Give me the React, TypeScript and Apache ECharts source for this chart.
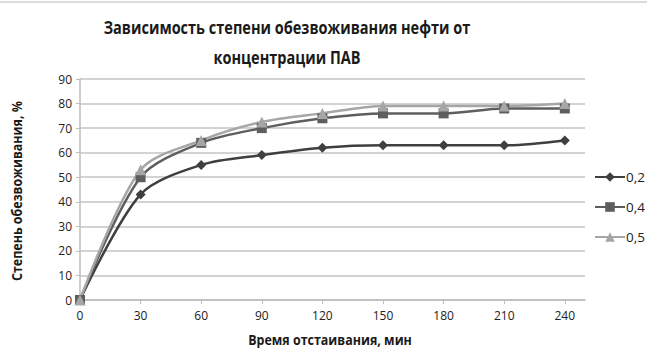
import React, { useEffect, useRef } from "react";
import * as echarts from "echarts";

const times = [0, 30, 60, 90, 120, 150, 180, 210, 240];
const seriesNames = ["0,2", "0,4", "0,5"];
const values02 = [0, 43, 55, 59, 62, 63, 63, 63, 65];
const values04 = [0, 50, 64, 70, 74, 76, 76, 78, 78];
const values05 = [0, 53, 65, 72.5, 76, 79, 79, 79, 80];
const yTicks = [0, 10, 20, 30, 40, 50, 60, 70, 80, 90];

const titleText = "Зависимость степени обезвоживания нефти от\nконцентрации ПАВ";
const xName = "Время отстаивания, мин";
const yName = "Степень обезвоживания, %";

export default function App() {
  const ref = useRef<HTMLDivElement>(null);
  useEffect(() => {
    document.body.style.margin = "0";
    const chart = echarts.init(ref.current!, undefined, { renderer: "svg" });
    const mk = (vals: number[]) => times.map((t, i) => [t, vals[i]]);
    const labelFont = "'Open Sans', 'DejaVu Sans', sans-serif";
    const defs = [
      { name: seriesNames[0], data: mk(values02), color: "#3f3f3f", symbol: "diamond", size: 10 },
      { name: seriesNames[1], data: mk(values04), color: "#5e5e5e", symbol: "rect", size: 10 },
      { name: seriesNames[2], data: mk(values05), color: "#a6a6a6", symbol: "triangle", size: 11 },
    ];
    chart.setOption({
      animation: false,
      backgroundColor: "#ffffff",
      grid: { left: 80, right: 62, top: 79, bottom: 49, containLabel: false },
      xAxis: {
        type: "value",
        min: 0,
        max: 250,
        interval: 30,
        axisLine: { show: true, lineStyle: { color: "#bdbdbd", width: 1.5 } },
        axisTick: { show: true, length: 4, lineStyle: { color: "#bdbdbd" }, customValues: times },
        axisLabel: {
          customValues: times,
          margin: 9,
          color: "#222",
          fontSize: 12,
          fontFamily: labelFont,
        },
        splitLine: { show: false },
      },
      yAxis: {
        type: "value",
        min: 0,
        max: 90,
        interval: 10,
        axisLine: { show: true, lineStyle: { color: "#bdbdbd", width: 1.5 } },
        axisTick: { show: true, length: 4, lineStyle: { color: "#bdbdbd" } },
        axisLabel: {
          customValues: yTicks,
          margin: 8,
          color: "#222",
          fontSize: 12,
          fontFamily: labelFont,
        },
        splitLine: { show: true, lineStyle: { color: "#c4c4c4", width: 1.5 } },
      },
      legend: {
        orient: "vertical",
        left: 589,
        top: 165,
        itemGap: 16,
        itemWidth: 30,
        itemHeight: 12,
        textStyle: { fontSize: 13.5, color: "#222", fontFamily: labelFont, padding: [0, 0, 0, -4] },
        data: seriesNames,
      },
      graphic: [
        {
          type: "line",
          shape: { x1: 0, y1: 2, x2: 647, y2: 2 },
          style: { stroke: "#dcdcdc", lineWidth: 2 },
        },
        {
          type: "text",
          x: 287,
          y: 13,
          scaleX: 0.855,
          style: {
            text: titleText,
            font: "bold 17px 'Open Sans', sans-serif",
            textAlign: "center",
            fill: "#1a1a1a",
            lineHeight: 30,
          },
        },
        {
          type: "text",
          x: 330,
          y: 340,
          scaleX: 0.86,
          style: {
            text: xName,
            font: "bold 14.5px 'Open Sans', sans-serif",
            textAlign: "center",
            textVerticalAlign: "middle",
            fill: "#1a1a1a",
          },
        },
        {
          type: "text",
          x: 17,
          y: 191,
          rotation: Math.PI / 2,
          scaleX: 0.86,
          style: {
            text: yName,
            font: "bold 14.5px 'Open Sans', sans-serif",
            textAlign: "center",
            textVerticalAlign: "middle",
            fill: "#1a1a1a",
          },
        },
      ],
      series: defs.map((d) => ({
        name: d.name,
        type: "line",
        data: d.data,
        smooth: 0.3,
        symbol: d.symbol,
        symbolSize: d.size,
        showSymbol: true,
        lineStyle: { color: d.color, width: 2.5 },
        itemStyle: { color: d.color },
      })),
    });
    return () => chart.dispose();
  }, []);
  return <div ref={ref} style={{ width: 647, height: 349 }} />;
}
